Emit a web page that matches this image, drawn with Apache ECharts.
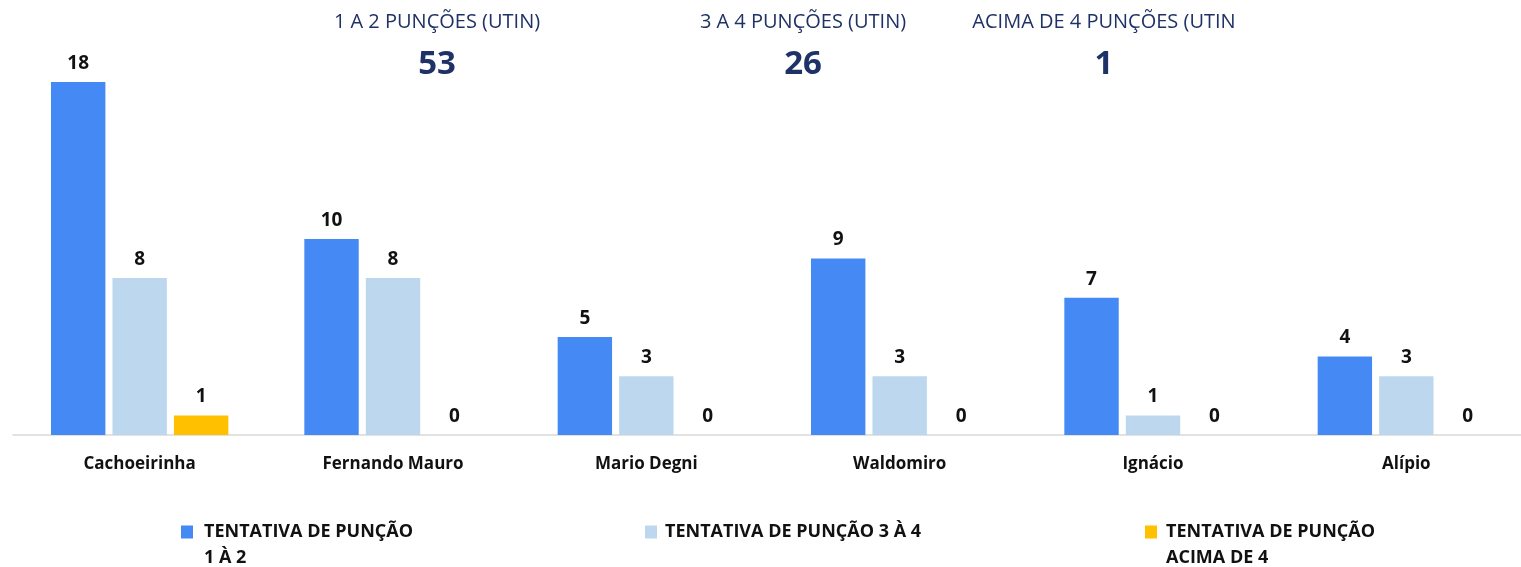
<!DOCTYPE html>
<html>
<head>
<meta charset="utf-8">
<script src="https://cdn.jsdelivr.net/npm/echarts@6/dist/echarts.min.js"></script>
<style>
  html, body { margin: 0; padding: 0; background: #fff; }
  #chart { width: 1521px; height: 567px; }
</style>
</head>
<body>
<div id="chart"></div>
<script>
// ── Data ────────────────────────────────────────
const categories = ['Cachoeirinha', 'Fernando Mauro', 'Mario Degni', 'Waldomiro', 'Ignácio', 'Alípio'];
const seriesNames = ['TENTATIVA DE PUNÇÃO\n1 À 2', 'TENTATIVA DE PUNÇÃO 3 À 4', 'TENTATIVA DE PUNÇÃO\nACIMA DE 4'];
const tries1to2   = [18, 10, 5, 9, 7, 4];
const tries3to4   = [8, 8, 3, 3, 1, 3];
const triesAbove4 = [1, 0, 0, 0, 0, 0];
const summaryTitles = ['1 A 2 PUNÇÕES (UTIN)', '3 A 4 PUNÇÕES (UTIN)', 'ACIMA DE 4 PUNÇÕES (UTIN'];
const summaryTotals = ['53', '26', '1'];

const colors = ['#4589F5', '#BDD7EE', '#FFC000'];
const navy = '#1F3267';
const FONT = '"Open Sans", "Noto Sans", sans-serif';

const chart = echarts.init(document.getElementById('chart'));

const labelStyle = {
    show: true,
    position: 'top',
    distance: 9,
    color: '#111',
    fontWeight: 'bold',
    fontSize: 19,
    fontFamily: FONT
};

function makeSeries(name, data, i) {
    return {
        name: name,
        type: 'bar',
        data: data,
        barGap: '13%',
        barCategoryGap: '30%',
        itemStyle: { color: colors[i] },
        label: labelStyle
    };
}

// ── Summary headings (top) ─────────────────────
const summaryX = [437, 803, 1104];
const graphics = [];
summaryX.forEach(function (x, i) {
    graphics.push({
        type: 'text', x: x, y: 22,
        style: { text: summaryTitles[i], fill: navy, font: '20px ' + FONT, align: 'center', verticalAlign: 'middle' }
    });
    graphics.push({
        type: 'text', x: x, y: 65,
        style: { text: summaryTotals[i], fill: navy, font: 'bold 33px ' + FONT, align: 'center', verticalAlign: 'middle' }
    });
});

// ── Legends (one per series, placed by hand) ───
// a blank first line keeps the icon level with the first text line
const legendX = [176, 640, 1140];
const legendPadLeft = [6, 3, 4];
const legends = seriesNames.map(function (n, i) {
    const twoLines = n.indexOf('\n') >= 0;
    return {
        data: [n],
        left: legendX[i],
        top: twoLines ? 488 : 514,
        icon: 'rect',
        itemWidth: 12,
        itemHeight: 13,
        selectedMode: false,
        formatter: function (name) { return twoLines ? ' \n' + name : name; },
        textStyle: {
            color: '#111', fontWeight: 'bold', fontSize: 18, fontFamily: FONT,
            lineHeight: 26, padding: [0, 0, 0, legendPadLeft[i]]
        }
    };
});

chart.setOption({
    animation: false,
    grid: { left: 13, width: 1520, top: 82, bottom: 132, outerBoundsMode: 'none' },
    legend: legends,
    graphic: graphics,
    xAxis: {
        type: 'category',
        data: categories,
        axisLine: { lineStyle: { color: '#D9D9D9', width: 1.5 } },
        axisTick: { show: false },
        axisLabel: { color: '#111', fontWeight: 'bold', fontSize: 17, fontFamily: FONT, margin: 21 }
    },
    yAxis: {
        type: 'value',
        min: 0,
        max: 18,
        show: false,
        splitLine: { show: false }
    },
    series: [
        makeSeries(seriesNames[0], tries1to2, 0),
        makeSeries(seriesNames[1], tries3to4, 1),
        makeSeries(seriesNames[2], triesAbove4, 2)
    ]
});
</script>
</body>
</html>
